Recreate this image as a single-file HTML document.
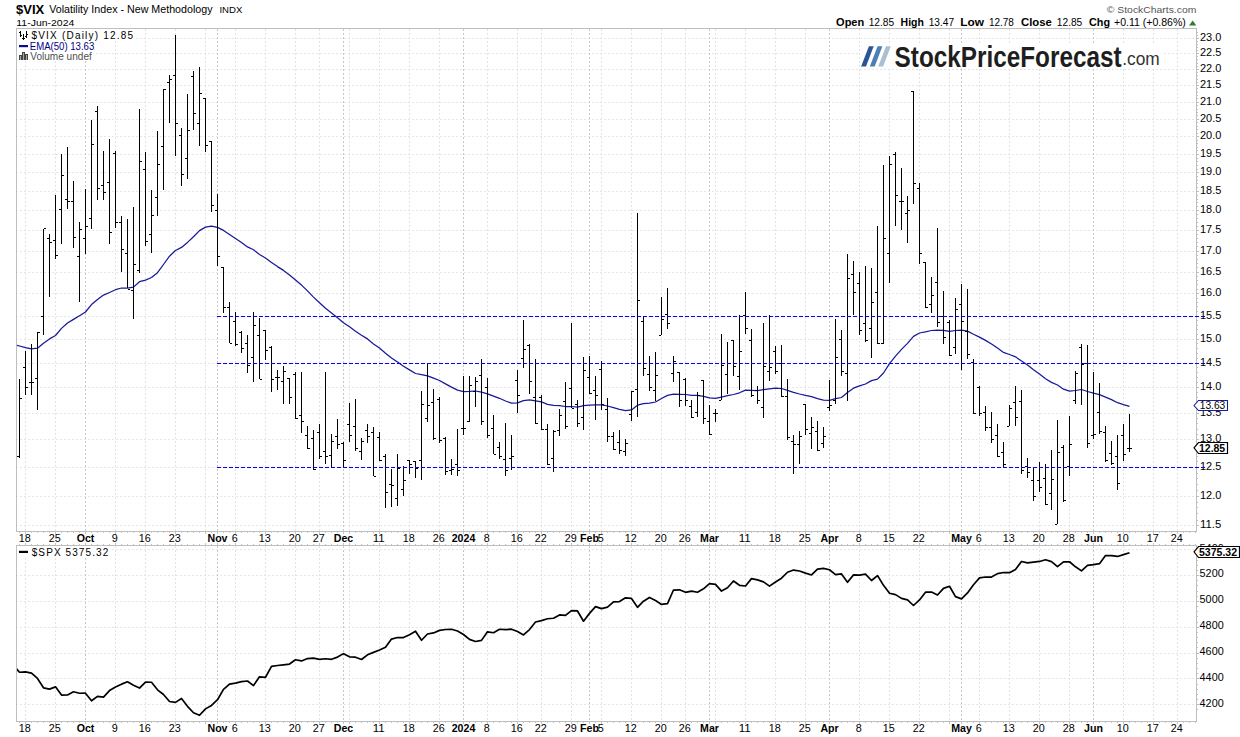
<!DOCTYPE html><html><head><meta charset="utf-8"><style>html,body{margin:0;padding:0;background:#fff;}svg{display:block}text{font-family:"Liberation Sans",sans-serif}</style></head><body><svg width="1240" height="737" viewBox="0 0 1240 737"><rect width="1240" height="737" fill="#fff"/><path d="M17 525.5H1196M17 496.5H1196M17 467.5H1196M17 439.5H1196M17 413.5H1196M17 387.5H1196M17 363.5H1196M17 339.5H1196M17 316.5H1196M17 293.5H1196M17 272.5H1196M17 251.5H1196M17 230.5H1196M17 210.5H1196M17 191.5H1196M17 172.5H1196M17 154.5H1196M17 136.5H1196M17 119.5H1196M17 102.5H1196M17 85.5H1196M17 69.5H1196M17 53.5H1196M17 38.5H1196M17 704.5H1196M17 678.5H1196M17 653.5H1196M17 627.5H1196M17 601.5H1196M17 575.5H1196M17 549.5H1196" stroke="#e6e6e6" stroke-width="1" stroke-dasharray="2 2" stroke-dashoffset="1" fill="none" shape-rendering="crispEdges"/><path d="M25.5 29V531M25.5 546V721M55.5 29V531M55.5 546V721M85.5 29V531M85.5 546V721M115.5 29V531M115.5 546V721M145.5 29V531M145.5 546V721M175.5 29V531M175.5 546V721M205.5 29V531M205.5 546V721M217.5 29V531M217.5 546V721M235.5 29V531M235.5 546V721M265.5 29V531M265.5 546V721M295.5 29V531M295.5 546V721M319.5 29V531M319.5 546V721M343.5 29V531M343.5 546V721M349.5 29V531M349.5 546V721M379.5 29V531M379.5 546V721M409.5 29V531M409.5 546V721M439.5 29V531M439.5 546V721M463.5 29V531M463.5 546V721M487.5 29V531M487.5 546V721M517.5 29V531M517.5 546V721M541.5 29V531M541.5 546V721M571.5 29V531M571.5 546V721M589.5 29V531M589.5 546V721M601.5 29V531M601.5 546V721M631.5 29V531M631.5 546V721M661.5 29V531M661.5 546V721M685.5 29V531M685.5 546V721M709.5 29V531M709.5 546V721M715.5 29V531M715.5 546V721M745.5 29V531M745.5 546V721M775.5 29V531M775.5 546V721M805.5 29V531M805.5 546V721M829.5 29V531M829.5 546V721M859.5 29V531M859.5 546V721M889.5 29V531M889.5 546V721M919.5 29V531M919.5 546V721M949.5 29V531M949.5 546V721M961.5 29V531M961.5 546V721M979.5 29V531M979.5 546V721M1009.5 29V531M1009.5 546V721M1039.5 29V531M1039.5 546V721M1069.5 29V531M1069.5 546V721M1093.5 29V531M1093.5 546V721M1123.5 29V531M1123.5 546V721M1153.5 29V531M1153.5 546V721M1177.5 29V531M1177.5 546V721" stroke="#e2e2e2" stroke-width="1" stroke-dasharray="2 2" fill="none" shape-rendering="crispEdges"/><path d="M85.5 29V531M85.5 546V721M217.5 29V531M217.5 546V721M343.5 29V531M343.5 546V721M463.5 29V531M463.5 546V721M589.5 29V531M589.5 546V721M709.5 29V531M709.5 546V721M829.5 29V531M829.5 546V721M961.5 29V531M961.5 546V721M1093.5 29V531M1093.5 546V721" stroke="#c8c8c8" stroke-width="1" stroke-dasharray="2 2" fill="none" shape-rendering="crispEdges"/><rect x="16.5" y="28.5" width="1180" height="503" fill="none" stroke="#bebebe" stroke-width="1" shape-rendering="crispEdges"/><rect x="16.5" y="545.5" width="1180" height="176" fill="none" stroke="#bebebe" stroke-width="1" shape-rendering="crispEdges"/><path d="M19.5 532v1M19.5 545v-1M19.5 722v1M25.5 532v2M25.5 545v-2M25.5 722v2M31.5 532v1M31.5 545v-1M31.5 722v1M37.5 532v1M37.5 545v-1M37.5 722v1M43.5 532v1M43.5 545v-1M43.5 722v1M49.5 532v1M49.5 545v-1M49.5 722v1M55.5 532v2M55.5 545v-2M55.5 722v2M61.5 532v1M61.5 545v-1M61.5 722v1M67.5 532v1M67.5 545v-1M67.5 722v1M73.5 532v1M73.5 545v-1M73.5 722v1M79.5 532v1M79.5 545v-1M79.5 722v1M85.5 532v2M85.5 545v-2M85.5 722v2M91.5 532v1M91.5 545v-1M91.5 722v1M97.5 532v1M97.5 545v-1M97.5 722v1M103.5 532v1M103.5 545v-1M103.5 722v1M109.5 532v1M109.5 545v-1M109.5 722v1M115.5 532v2M115.5 545v-2M115.5 722v2M121.5 532v1M121.5 545v-1M121.5 722v1M127.5 532v1M127.5 545v-1M127.5 722v1M133.5 532v1M133.5 545v-1M133.5 722v1M139.5 532v1M139.5 545v-1M139.5 722v1M145.5 532v2M145.5 545v-2M145.5 722v2M151.5 532v1M151.5 545v-1M151.5 722v1M157.5 532v1M157.5 545v-1M157.5 722v1M163.5 532v1M163.5 545v-1M163.5 722v1M169.5 532v1M169.5 545v-1M169.5 722v1M175.5 532v2M175.5 545v-2M175.5 722v2M181.5 532v1M181.5 545v-1M181.5 722v1M187.5 532v1M187.5 545v-1M187.5 722v1M193.5 532v1M193.5 545v-1M193.5 722v1M199.5 532v1M199.5 545v-1M199.5 722v1M205.5 532v2M205.5 545v-2M205.5 722v2M211.5 532v1M211.5 545v-1M211.5 722v1M217.5 532v2M217.5 545v-2M217.5 722v2M223.5 532v1M223.5 545v-1M223.5 722v1M229.5 532v1M229.5 545v-1M229.5 722v1M235.5 532v2M235.5 545v-2M235.5 722v2M241.5 532v1M241.5 545v-1M241.5 722v1M247.5 532v1M247.5 545v-1M247.5 722v1M253.5 532v1M253.5 545v-1M253.5 722v1M259.5 532v1M259.5 545v-1M259.5 722v1M265.5 532v2M265.5 545v-2M265.5 722v2M271.5 532v1M271.5 545v-1M271.5 722v1M277.5 532v1M277.5 545v-1M277.5 722v1M283.5 532v1M283.5 545v-1M283.5 722v1M289.5 532v1M289.5 545v-1M289.5 722v1M295.5 532v2M295.5 545v-2M295.5 722v2M301.5 532v1M301.5 545v-1M301.5 722v1M307.5 532v1M307.5 545v-1M307.5 722v1M313.5 532v1M313.5 545v-1M313.5 722v1M319.5 532v2M319.5 545v-2M319.5 722v2M325.5 532v1M325.5 545v-1M325.5 722v1M331.5 532v1M331.5 545v-1M331.5 722v1M337.5 532v1M337.5 545v-1M337.5 722v1M343.5 532v2M343.5 545v-2M343.5 722v2M349.5 532v2M349.5 545v-2M349.5 722v2M355.5 532v1M355.5 545v-1M355.5 722v1M361.5 532v1M361.5 545v-1M361.5 722v1M367.5 532v1M367.5 545v-1M367.5 722v1M373.5 532v1M373.5 545v-1M373.5 722v1M379.5 532v2M379.5 545v-2M379.5 722v2M385.5 532v1M385.5 545v-1M385.5 722v1M391.5 532v1M391.5 545v-1M391.5 722v1M397.5 532v1M397.5 545v-1M397.5 722v1M403.5 532v1M403.5 545v-1M403.5 722v1M409.5 532v2M409.5 545v-2M409.5 722v2M415.5 532v1M415.5 545v-1M415.5 722v1M421.5 532v1M421.5 545v-1M421.5 722v1M427.5 532v1M427.5 545v-1M427.5 722v1M433.5 532v1M433.5 545v-1M433.5 722v1M439.5 532v2M439.5 545v-2M439.5 722v2M445.5 532v1M445.5 545v-1M445.5 722v1M451.5 532v1M451.5 545v-1M451.5 722v1M457.5 532v1M457.5 545v-1M457.5 722v1M463.5 532v2M463.5 545v-2M463.5 722v2M469.5 532v1M469.5 545v-1M469.5 722v1M475.5 532v1M475.5 545v-1M475.5 722v1M481.5 532v1M481.5 545v-1M481.5 722v1M487.5 532v2M487.5 545v-2M487.5 722v2M493.5 532v1M493.5 545v-1M493.5 722v1M499.5 532v1M499.5 545v-1M499.5 722v1M505.5 532v1M505.5 545v-1M505.5 722v1M511.5 532v1M511.5 545v-1M511.5 722v1M517.5 532v2M517.5 545v-2M517.5 722v2M523.5 532v1M523.5 545v-1M523.5 722v1M529.5 532v1M529.5 545v-1M529.5 722v1M535.5 532v1M535.5 545v-1M535.5 722v1M541.5 532v2M541.5 545v-2M541.5 722v2M547.5 532v1M547.5 545v-1M547.5 722v1M553.5 532v1M553.5 545v-1M553.5 722v1M559.5 532v1M559.5 545v-1M559.5 722v1M565.5 532v1M565.5 545v-1M565.5 722v1M571.5 532v2M571.5 545v-2M571.5 722v2M577.5 532v1M577.5 545v-1M577.5 722v1M583.5 532v1M583.5 545v-1M583.5 722v1M589.5 532v2M589.5 545v-2M589.5 722v2M595.5 532v1M595.5 545v-1M595.5 722v1M601.5 532v2M601.5 545v-2M601.5 722v2M607.5 532v1M607.5 545v-1M607.5 722v1M613.5 532v1M613.5 545v-1M613.5 722v1M619.5 532v1M619.5 545v-1M619.5 722v1M625.5 532v1M625.5 545v-1M625.5 722v1M631.5 532v2M631.5 545v-2M631.5 722v2M637.5 532v1M637.5 545v-1M637.5 722v1M643.5 532v1M643.5 545v-1M643.5 722v1M649.5 532v1M649.5 545v-1M649.5 722v1M655.5 532v1M655.5 545v-1M655.5 722v1M661.5 532v2M661.5 545v-2M661.5 722v2M667.5 532v1M667.5 545v-1M667.5 722v1M673.5 532v1M673.5 545v-1M673.5 722v1M679.5 532v1M679.5 545v-1M679.5 722v1M685.5 532v2M685.5 545v-2M685.5 722v2M691.5 532v1M691.5 545v-1M691.5 722v1M697.5 532v1M697.5 545v-1M697.5 722v1M703.5 532v1M703.5 545v-1M703.5 722v1M709.5 532v2M709.5 545v-2M709.5 722v2M715.5 532v2M715.5 545v-2M715.5 722v2M721.5 532v1M721.5 545v-1M721.5 722v1M727.5 532v1M727.5 545v-1M727.5 722v1M733.5 532v1M733.5 545v-1M733.5 722v1M739.5 532v1M739.5 545v-1M739.5 722v1M745.5 532v2M745.5 545v-2M745.5 722v2M751.5 532v1M751.5 545v-1M751.5 722v1M757.5 532v1M757.5 545v-1M757.5 722v1M763.5 532v1M763.5 545v-1M763.5 722v1M769.5 532v1M769.5 545v-1M769.5 722v1M775.5 532v2M775.5 545v-2M775.5 722v2M781.5 532v1M781.5 545v-1M781.5 722v1M787.5 532v1M787.5 545v-1M787.5 722v1M793.5 532v1M793.5 545v-1M793.5 722v1M799.5 532v1M799.5 545v-1M799.5 722v1M805.5 532v2M805.5 545v-2M805.5 722v2M811.5 532v1M811.5 545v-1M811.5 722v1M817.5 532v1M817.5 545v-1M817.5 722v1M823.5 532v1M823.5 545v-1M823.5 722v1M829.5 532v2M829.5 545v-2M829.5 722v2M835.5 532v1M835.5 545v-1M835.5 722v1M841.5 532v1M841.5 545v-1M841.5 722v1M847.5 532v1M847.5 545v-1M847.5 722v1M853.5 532v1M853.5 545v-1M853.5 722v1M859.5 532v2M859.5 545v-2M859.5 722v2M865.5 532v1M865.5 545v-1M865.5 722v1M871.5 532v1M871.5 545v-1M871.5 722v1M877.5 532v1M877.5 545v-1M877.5 722v1M883.5 532v1M883.5 545v-1M883.5 722v1M889.5 532v2M889.5 545v-2M889.5 722v2M895.5 532v1M895.5 545v-1M895.5 722v1M901.5 532v1M901.5 545v-1M901.5 722v1M907.5 532v1M907.5 545v-1M907.5 722v1M913.5 532v1M913.5 545v-1M913.5 722v1M919.5 532v2M919.5 545v-2M919.5 722v2M925.5 532v1M925.5 545v-1M925.5 722v1M931.5 532v1M931.5 545v-1M931.5 722v1M937.5 532v1M937.5 545v-1M937.5 722v1M943.5 532v1M943.5 545v-1M943.5 722v1M949.5 532v2M949.5 545v-2M949.5 722v2M955.5 532v1M955.5 545v-1M955.5 722v1M961.5 532v2M961.5 545v-2M961.5 722v2M967.5 532v1M967.5 545v-1M967.5 722v1M973.5 532v1M973.5 545v-1M973.5 722v1M979.5 532v2M979.5 545v-2M979.5 722v2M985.5 532v1M985.5 545v-1M985.5 722v1M991.5 532v1M991.5 545v-1M991.5 722v1M997.5 532v1M997.5 545v-1M997.5 722v1M1003.5 532v1M1003.5 545v-1M1003.5 722v1M1009.5 532v2M1009.5 545v-2M1009.5 722v2M1015.5 532v1M1015.5 545v-1M1015.5 722v1M1021.5 532v1M1021.5 545v-1M1021.5 722v1M1027.5 532v1M1027.5 545v-1M1027.5 722v1M1033.5 532v1M1033.5 545v-1M1033.5 722v1M1039.5 532v2M1039.5 545v-2M1039.5 722v2M1045.5 532v1M1045.5 545v-1M1045.5 722v1M1051.5 532v1M1051.5 545v-1M1051.5 722v1M1057.5 532v1M1057.5 545v-1M1057.5 722v1M1063.5 532v1M1063.5 545v-1M1063.5 722v1M1069.5 532v2M1069.5 545v-2M1069.5 722v2M1075.5 532v1M1075.5 545v-1M1075.5 722v1M1081.5 532v1M1081.5 545v-1M1081.5 722v1M1087.5 532v1M1087.5 545v-1M1087.5 722v1M1093.5 532v2M1093.5 545v-2M1093.5 722v2M1099.5 532v1M1099.5 545v-1M1099.5 722v1M1105.5 532v1M1105.5 545v-1M1105.5 722v1M1111.5 532v1M1111.5 545v-1M1111.5 722v1M1117.5 532v1M1117.5 545v-1M1117.5 722v1M1123.5 532v2M1123.5 545v-2M1123.5 722v2M1129.5 532v1M1129.5 545v-1M1129.5 722v1M1135.5 532v1M1135.5 545v-1M1135.5 722v1M1141.5 532v1M1141.5 545v-1M1141.5 722v1M1147.5 532v1M1147.5 545v-1M1147.5 722v1M1153.5 532v2M1153.5 545v-2M1153.5 722v2M1159.5 532v1M1159.5 545v-1M1159.5 722v1M1165.5 532v1M1165.5 545v-1M1165.5 722v1M1171.5 532v1M1171.5 545v-1M1171.5 722v1M1177.5 532v2M1177.5 545v-2M1177.5 722v2M1183.5 532v1M1183.5 545v-1M1183.5 722v1M1189.5 532v1M1189.5 545v-1M1189.5 722v1M1195.5 532v1M1195.5 545v-1M1195.5 722v1" stroke="#c4c4c4" stroke-width="1" fill="none" shape-rendering="crispEdges"/><path d="M1197 525.5h2M1197 520.5h1M1197 513.5h1M1197 507.5h1M1197 502.5h1M1197 496.5h2M1197 490.5h1M1197 484.5h1M1197 478.5h1M1197 473.5h1M1197 467.5h2M1197 461.5h1M1197 456.5h1M1197 450.5h1M1197 445.5h1M1197 439.5h2M1197 434.5h1M1197 429.5h1M1197 423.5h1M1197 418.5h1M1197 413.5h2M1197 408.5h1M1197 402.5h1M1197 397.5h1M1197 392.5h1M1197 387.5h2M1197 382.5h1M1197 377.5h1M1197 372.5h1M1197 367.5h1M1197 363.5h2M1197 358.5h1M1197 353.5h1M1197 348.5h1M1197 343.5h1M1197 339.5h2M1197 334.5h1M1197 329.5h1M1197 325.5h1M1197 320.5h1M1197 316.5h2M1197 311.5h1M1197 306.5h1M1197 302.5h1M1197 298.5h1M1197 293.5h2M1197 289.5h1M1197 284.5h1M1197 280.5h1M1197 276.5h1M1197 272.5h2M1197 267.5h1M1197 263.5h1M1197 259.5h1M1197 255.5h1M1197 251.5h2M1197 246.5h1M1197 242.5h1M1197 238.5h1M1197 234.5h1M1197 230.5h2M1197 226.5h1M1197 222.5h1M1197 218.5h1M1197 214.5h1M1197 210.5h2M1197 206.5h1M1197 202.5h1M1197 199.5h1M1197 195.5h1M1197 191.5h2M1197 187.5h1M1197 183.5h1M1197 180.5h1M1197 176.5h1M1197 172.5h2M1197 169.5h1M1197 165.5h1M1197 161.5h1M1197 158.5h1M1197 154.5h2M1197 150.5h1M1197 147.5h1M1197 143.5h1M1197 140.5h1M1197 136.5h2M1197 133.5h1M1197 129.5h1M1197 126.5h1M1197 122.5h1M1197 119.5h2M1197 115.5h1M1197 112.5h1M1197 109.5h1M1197 105.5h1M1197 102.5h2M1197 98.5h1M1197 95.5h1M1197 92.5h1M1197 88.5h1M1197 85.5h2M1197 82.5h1M1197 79.5h1M1197 75.5h1M1197 72.5h1M1197 69.5h2M1197 66.5h1M1197 63.5h1M1197 59.5h1M1197 56.5h1M1197 53.5h2M1197 50.5h1M1197 47.5h1M1197 44.5h1M1197 41.5h1M1197 38.5h2M1197 35.5h1M1197 32.5h1M1197 709.5h1M1197 704.5h2M1197 699.5h1M1197 694.5h1M1197 689.5h1M1197 684.5h1M1197 678.5h2M1197 673.5h1M1197 668.5h1M1197 663.5h1M1197 658.5h1M1197 653.5h2M1197 647.5h1M1197 642.5h1M1197 637.5h1M1197 632.5h1M1197 627.5h2M1197 622.5h1M1197 616.5h1M1197 611.5h1M1197 606.5h1M1197 601.5h2M1197 596.5h1M1197 591.5h1M1197 585.5h1M1197 580.5h1M1197 575.5h2M1197 570.5h1M1197 565.5h1M1197 560.5h1M1197 554.5h1M1197 549.5h2" stroke="#bebebe" stroke-width="1" fill="none" shape-rendering="crispEdges"/><polyline points="17.0,345.3 19.5,346.0 25.5,347.6 31.5,348.9 37.5,348.2 43.5,343.2 49.5,338.9 55.5,335.5 61.5,328.4 67.5,323.0 73.5,319.4 79.5,315.7 85.5,312.0 91.5,304.6 97.5,299.6 103.5,295.1 109.5,292.5 115.5,289.7 121.5,288.0 127.5,288.1 133.5,287.1 139.5,281.7 145.5,280.1 151.5,277.5 157.5,272.7 163.5,264.5 169.5,256.2 175.5,250.5 181.5,247.4 187.5,242.4 193.5,236.8 199.5,230.6 205.5,227.1 211.5,226.2 217.5,227.4 223.5,230.4 229.5,234.5 235.5,238.5 241.5,242.5 247.5,246.9 253.5,249.8 259.5,254.5 265.5,258.0 271.5,262.4 277.5,266.6 283.5,270.4 289.5,275.0 295.5,280.1 301.5,285.1 307.5,290.9 313.5,297.1 319.5,302.7 325.5,308.2 331.5,312.9 337.5,317.7 343.5,322.7 349.5,326.8 355.5,331.2 361.5,335.2 367.5,338.9 373.5,343.9 379.5,348.1 385.5,353.2 391.5,358.0 397.5,362.0 403.5,366.3 409.5,369.9 415.5,373.5 421.5,374.7 427.5,375.8 433.5,378.2 439.5,380.5 445.5,383.9 451.5,387.1 457.5,390.1 463.5,391.6 469.5,391.4 475.5,391.0 481.5,392.2 487.5,393.8 493.5,396.1 499.5,398.3 505.5,401.0 511.5,403.1 517.5,402.8 523.5,400.7 529.5,399.9 535.5,400.8 541.5,401.9 547.5,404.3 553.5,405.3 559.5,405.7 565.5,406.5 571.5,406.5 577.5,407.2 583.5,405.7 589.5,405.2 595.5,404.8 601.5,404.8 607.5,406.0 613.5,407.7 619.5,409.3 625.5,410.6 631.5,409.9 637.5,405.2 643.5,403.7 649.5,403.1 655.5,402.0 661.5,398.5 667.5,395.4 673.5,394.1 679.5,394.3 685.5,394.5 691.5,395.4 697.5,395.4 703.5,396.3 709.5,397.8 715.5,398.4 721.5,397.1 727.5,395.7 733.5,394.5 739.5,392.8 745.5,390.1 751.5,390.3 757.5,390.7 763.5,389.7 769.5,388.8 775.5,388.1 781.5,388.5 787.5,390.3 793.5,392.4 799.5,394.0 805.5,395.4 811.5,396.6 817.5,398.7 823.5,400.1 829.5,400.3 835.5,398.6 841.5,397.5 847.5,392.4 853.5,388.2 859.5,385.9 865.5,384.0 871.5,380.6 877.5,379.1 883.5,373.0 889.5,363.6 895.5,356.2 901.5,349.4 907.5,343.4 913.5,336.4 919.5,333.0 925.5,331.9 931.5,330.5 937.5,330.2 943.5,330.4 949.5,331.4 955.5,330.5 961.5,330.2 967.5,331.1 973.5,334.2 979.5,337.1 985.5,340.4 991.5,344.0 997.5,348.1 1003.5,352.4 1009.5,354.5 1015.5,356.8 1021.5,361.0 1027.5,365.0 1033.5,369.7 1039.5,374.0 1045.5,378.7 1051.5,382.4 1057.5,385.0 1063.5,389.2 1069.5,391.2 1075.5,390.5 1081.5,389.5 1087.5,391.5 1093.5,393.2 1099.5,394.6 1105.5,397.1 1111.5,399.6 1117.5,402.7 1123.5,404.6 1129.5,406.3" stroke="#18189a" stroke-width="1.25" fill="none" stroke-linejoin="round"/><path d="M19.5 379V458M17 456.5h2M20 398.5h2M25.5 351V395M23 367.5h2M26 387.5h2M31.5 344V395M29 382.5h2M32 382.5h2M37.5 332V410M35 378.5h2M38 332.5h2M43.5 229V335M41 316.5h2M44 228.5h2M49.5 234V297M47 238.5h2M50 242.5h2M55.5 195V259M53 240.5h2M56 255.5h2M61.5 154V244M59 209.5h2M62 175.5h2M67.5 147V209M65 199.5h2M68 201.5h2M73.5 181V248M71 201.5h2M74 237.5h2M79.5 222V302M77 256.5h2M80 229.5h2M85.5 189V254M83 238.5h2M86 226.5h2M91.5 120V229M89 218.5h2M92 144.5h2M97.5 106V200M95 111.5h2M98 188.5h2M103.5 151V200M101 185.5h2M104 192.5h2M109.5 139V244M107 182.5h2M110 232.5h2M115.5 151V228M113 153.5h2M116 222.5h2M121.5 216V272M119 222.5h2M122 249.5h2M127.5 219V288M125 253.5h2M128 289.5h2M133.5 207V319M131 290.5h2M134 264.5h2M139.5 109V273M137 270.5h2M140 161.5h2M145.5 152V246M143 169.5h2M146 241.5h2M151.5 190V253M149 234.5h2M152 215.5h2M157.5 131V216M155 197.5h2M158 164.5h2M163.5 89V190M161 146.5h2M164 89.5h2M169.5 75V123M167 82.5h2M170 79.5h2M175.5 35V156M173 75.5h2M176 123.5h2M181.5 128V186M179 135.5h2M182 174.5h2M187.5 94V179M185 158.5h2M188 130.5h2M193.5 71V130M191 76.5h2M194 113.5h2M199.5 67V146M197 123.5h2M200 93.5h2M205.5 98V152M203 98.5h2M206 145.5h2M211.5 141V212M209 141.5h2M212 205.5h2M217.5 194V266M215 210.5h2M218 256.5h2M223.5 267V313M221 267.5h2M224 307.5h2M229.5 302V343M227 307.5h2M230 343.5h2M235.5 312V346M233 321.5h2M236 344.5h2M241.5 331V353M239 332.5h2M242 348.5h2M247.5 335V373M245 343.5h2M248 365.5h2M253.5 312V382M251 357.5h2M254 325.5h2M259.5 318V379M257 335.5h2M260 379.5h2M265.5 330V360M263 330.5h2M266 350.5h2M271.5 346V392M269 347.5h2M272 379.5h2M277.5 370V390M275 377.5h2M278 377.5h2M283.5 366V404M281 381.5h2M284 371.5h2M289.5 378V404M287 378.5h2M290 397.5h2M295.5 372V419M293 374.5h2M296 418.5h2M301.5 372V433M299 415.5h2M302 421.5h2M307.5 426V449M305 435.5h2M308 448.5h2M313.5 430V470M311 438.5h2M314 469.5h2M319.5 424V459M317 432.5h2M320 456.5h2M325.5 372V464M323 451.5h2M326 456.5h2M331.5 434V468M329 455.5h2M332 441.5h2M337.5 419V449M335 436.5h2M338 444.5h2M343.5 442V468M341 443.5h2M344 460.5h2M349.5 403V442M347 424.5h2M350 435.5h2M355.5 399V451M353 426.5h2M356 448.5h2M361.5 438V460M359 451.5h2M362 441.5h2M367.5 424V443M365 430.5h2M368 436.5h2M373.5 427V476M371 432.5h2M374 476.5h2M379.5 432V461M377 437.5h2M380 460.5h2M385.5 454V508M383 456.5h2M386 492.5h2M391.5 469V507M389 484.5h2M392 485.5h2M397.5 454V506M395 498.5h2M398 468.5h2M403.5 466V496M401 489.5h2M404 480.5h2M409.5 460V474M407 460.5h2M410 464.5h2M415.5 461V478M413 461.5h2M416 468.5h2M421.5 391V480M419 460.5h2M422 404.5h2M427.5 364V422M425 418.5h2M428 405.5h2M433.5 389V440M431 402.5h2M434 438.5h2M439.5 397V443M437 399.5h2M440 440.5h2M445.5 437V475M443 438.5h2M446 471.5h2M451.5 459V475M449 470.5h2M452 469.5h2M457.5 429V476M455 464.5h2M458 470.5h2M463.5 376V435M461 428.5h2M464 428.5h2M469.5 376V422M467 421.5h2M470 385.5h2M475.5 377V407M473 391.5h2M476 381.5h2M481.5 359V425M479 375.5h2M482 421.5h2M487.5 378V438M485 387.5h2M488 435.5h2M493.5 415V454M491 428.5h2M494 454.5h2M499.5 442V459M497 447.5h2M500 456.5h2M505.5 423V476M503 459.5h2M506 470.5h2M511.5 435V470M509 458.5h2M512 456.5h2M517.5 370V413M515 380.5h2M518 395.5h2M523.5 320V368M521 358.5h2M524 349.5h2M529.5 344V394M527 345.5h2M530 381.5h2M535.5 359V424M533 397.5h2M536 423.5h2M541.5 395V430M539 397.5h2M542 429.5h2M547.5 424V465M545 429.5h2M548 464.5h2M553.5 430V472M551 458.5h2M554 431.5h2M559.5 409V436M557 430.5h2M560 415.5h2M565.5 382V429M563 401.5h2M566 426.5h2M571.5 323V408M569 388.5h2M572 408.5h2M577.5 400V427M575 404.5h2M578 423.5h2M583.5 357V430M581 417.5h2M584 370.5h2M589.5 356V394M587 377.5h2M590 393.5h2M595.5 376V420M593 390.5h2M596 395.5h2M601.5 361V410M599 369.5h2M602 404.5h2M607.5 398V442M605 409.5h2M608 436.5h2M613.5 432V450M611 436.5h2M614 449.5h2M619.5 430V454M617 442.5h2M620 450.5h2M625.5 439V456M623 451.5h2M626 443.5h2M631.5 391V421M629 414.5h2M632 391.5h2M637.5 213V417M635 389.5h2M638 300.5h2M643.5 317V376M641 321.5h2M644 368.5h2M649.5 356V391M647 374.5h2M650 387.5h2M655.5 352V401M653 390.5h2M656 375.5h2M661.5 297V335M659 335.5h2M662 319.5h2M667.5 288V329M665 314.5h2M668 323.5h2M673.5 356V382M671 373.5h2M674 361.5h2M679.5 372V407M677 372.5h2M680 400.5h2M685.5 378V406M683 379.5h2M686 400.5h2M691.5 400V418M689 406.5h2M692 417.5h2M697.5 392V417M695 412.5h2M698 395.5h2M703.5 380V424M701 380.5h2M704 418.5h2M709.5 405V435M707 421.5h2M710 434.5h2M715.5 409V422M713 413.5h2M716 413.5h2M721.5 334V400M719 400.5h2M722 365.5h2M727.5 342V394M725 374.5h2M728 363.5h2M733.5 340V376M731 340.5h2M734 366.5h2M739.5 315V390M737 376.5h2M740 351.5h2M745.5 292V334M743 315.5h2M746 328.5h2M751.5 329V397M749 340.5h2M752 395.5h2M757.5 386V404M755 390.5h2M758 400.5h2M763.5 323V418M761 407.5h2M764 366.5h2M769.5 315V381M767 371.5h2M770 367.5h2M775.5 346V374M773 351.5h2M776 371.5h2M781.5 345V397M779 363.5h2M782 396.5h2M787.5 379V440M785 396.5h2M788 437.5h2M793.5 435V474M791 441.5h2M794 444.5h2M799.5 431V464M797 444.5h2M800 436.5h2M805.5 404V435M803 404.5h2M806 429.5h2M811.5 417V449M809 433.5h2M812 427.5h2M817.5 421V451M815 431.5h2M818 450.5h2M823.5 427V448M821 443.5h2M824 436.5h2M829.5 380V411M827 407.5h2M830 405.5h2M835.5 319V404M833 400.5h2M836 357.5h2M841.5 330V376M839 339.5h2M842 371.5h2M847.5 254V401M845 373.5h2M848 278.5h2M853.5 261V315M851 274.5h2M854 292.5h2M859.5 272V335M857 283.5h2M860 330.5h2M865.5 266V342M863 323.5h2M866 340.5h2M871.5 268V358M869 328.5h2M872 302.5h2M877.5 226V344M875 292.5h2M878 343.5h2M883.5 165V344M881 343.5h2M884 238.5h2M889.5 156V283M887 253.5h2M890 164.5h2M895.5 152V226M893 154.5h2M896 195.5h2M901.5 168V230M899 201.5h2M902 201.5h2M907.5 196V243M905 213.5h2M908 210.5h2M913.5 91V204M911 91.5h2M914 183.5h2M919.5 183V264M917 188.5h2M920 253.5h2M925.5 262V308M923 262.5h2M926 307.5h2M931.5 277V313M929 304.5h2M932 295.5h2M937.5 228V327M935 282.5h2M938 322.5h2M943.5 291V344M941 316.5h2M944 337.5h2M949.5 320V356M947 322.5h2M950 355.5h2M955.5 298V354M953 347.5h2M956 309.5h2M961.5 284V370M959 304.5h2M962 321.5h2M967.5 289V359M965 331.5h2M968 354.5h2M973.5 359V414M971 362.5h2M974 413.5h2M979.5 386V416M977 387.5h2M980 413.5h2M985.5 406V431M983 412.5h2M986 427.5h2M991.5 412V443M989 427.5h2M992 439.5h2M997.5 424V457M995 435.5h2M998 456.5h2M1003.5 442V467M1001 452.5h2M1004 464.5h2M1009.5 405V426M1007 426.5h2M1010 408.5h2M1015.5 386V426M1013 402.5h2M1016 417.5h2M1021.5 390V474M1019 401.5h2M1022 470.5h2M1027.5 458V478M1025 466.5h2M1028 472.5h2M1033.5 468V501M1031 480.5h2M1034 496.5h2M1039.5 462V492M1037 480.5h2M1040 487.5h2M1045.5 464V505M1043 478.5h2M1046 504.5h2M1051.5 450V510M1049 493.5h2M1052 479.5h2M1057.5 420V524M1055 524.5h2M1058 452.5h2M1063.5 445V502M1061 447.5h2M1064 500.5h2M1069.5 416V476M1067 466.5h2M1070 444.5h2M1075.5 371V404M1073 400.5h2M1076 373.5h2M1081.5 344V405M1079 347.5h2M1082 364.5h2M1087.5 345V448M1085 363.5h2M1088 443.5h2M1093.5 372V439M1091 435.5h2M1094 434.5h2M1099.5 383V434M1097 412.5h2M1100 431.5h2M1105.5 426V462M1103 432.5h2M1106 460.5h2M1111.5 441V465M1109 453.5h2M1112 463.5h2M1117.5 435V490M1115 456.5h2M1118 483.5h2M1123.5 424V461M1121 435.5h2M1124 454.5h2M1129.5 414V452M1127 448.5h2M1130 448.5h2" stroke="#000" stroke-width="1" fill="none" shape-rendering="crispEdges"/><clipPath id="c2"><rect x="17" y="546" width="1179" height="175"/></clipPath><polyline clip-path="url(#c2)" points="13.5,665.19 19.5,672.27 25.5,671.86 31.5,673.09 37.5,678.49 43.5,687.81 49.5,689.10 55.5,686.85 61.5,695.11 67.5,694.98 73.5,691.73 79.5,693.23 85.5,693.19 91.5,700.80 97.5,696.37 103.5,697.09 109.5,690.59 115.5,687.08 121.5,684.16 127.5,681.75 133.5,685.28 139.5,688.10 145.5,682.18 151.5,682.23 157.5,689.80 163.5,694.53 169.5,701.48 175.5,702.40 181.5,698.45 187.5,706.31 193.5,712.71 199.5,715.28 205.5,708.89 211.5,705.40 217.5,699.71 223.5,689.39 229.5,684.15 235.5,683.16 241.5,681.56 247.5,680.99 253.5,685.57 259.5,676.80 265.5,677.28 271.5,666.41 277.5,665.48 283.5,664.79 289.5,664.04 295.5,659.73 301.5,660.92 307.5,658.54 313.5,658.19 319.5,659.34 325.5,658.76 331.5,659.32 337.5,657.10 343.5,653.63 349.5,656.84 355.5,657.18 361.5,659.48 367.5,654.80 373.5,652.37 379.5,650.04 385.5,647.29 391.5,639.10 397.5,637.49 403.5,637.54 409.5,634.78 415.5,631.19 421.5,640.23 427.5,633.98 433.5,632.96 439.5,630.36 445.5,629.48 451.5,629.25 457.5,631.00 463.5,634.49 469.5,639.40 475.5,641.48 481.5,640.38 487.5,631.81 493.5,632.72 499.5,629.24 505.5,629.65 511.5,629.19 517.5,631.50 523.5,634.95 529.5,629.56 535.5,621.96 541.5,620.59 547.5,618.76 553.5,618.25 559.5,614.94 565.5,615.35 571.5,610.58 577.5,610.96 583.5,621.21 589.5,613.39 595.5,606.61 601.5,608.66 607.5,607.18 613.5,601.91 619.5,601.54 625.5,597.83 631.5,598.45 637.5,607.32 643.5,601.19 649.5,597.43 655.5,600.55 661.5,604.43 667.5,603.62 673.5,590.03 679.5,589.80 685.5,592.29 691.5,591.17 697.5,592.26 703.5,588.83 709.5,583.56 715.5,584.35 721.5,591.11 727.5,587.74 733.5,580.94 739.5,585.29 745.5,586.03 751.5,578.63 757.5,579.91 763.5,581.83 769.5,586.14 775.5,581.97 781.5,578.21 787.5,572.25 793.5,570.07 799.5,571.02 805.5,573.08 811.5,574.97 817.5,569.17 823.5,568.41 829.5,569.78 835.5,574.68 841.5,573.95 847.5,582.25 853.5,574.87 859.5,575.13 865.5,574.15 871.5,580.52 877.5,575.56 883.5,585.33 889.5,593.28 895.5,594.63 901.5,598.40 907.5,599.83 913.5,605.50 919.5,599.90 925.5,592.16 931.5,592.02 937.5,595.01 943.5,588.36 949.5,586.26 955.5,596.66 961.5,598.89 967.5,592.98 973.5,584.76 979.5,577.92 985.5,577.02 991.5,577.03 997.5,573.62 1003.5,572.50 1009.5,572.67 1015.5,569.40 1021.5,561.46 1027.5,562.89 1033.5,562.09 1039.5,561.47 1045.5,559.75 1051.5,561.61 1057.5,566.67 1063.5,561.91 1069.5,561.74 1075.5,566.79 1081.5,570.85 1087.5,565.42 1093.5,564.66 1099.5,563.64 1105.5,555.54 1111.5,555.68 1117.5,556.45 1123.5,554.66 1129.5,552.79" stroke="#000" stroke-width="1.7" fill="none" stroke-linejoin="round"/><text x="1200" y="528.1" font-size="10" textLength="21.3" lengthAdjust="spacingAndGlyphs">11.5</text><text x="1200" y="499.1" font-size="10" textLength="21.3" lengthAdjust="spacingAndGlyphs">12.0</text><text x="1200" y="470.1" font-size="10" textLength="21.3" lengthAdjust="spacingAndGlyphs">12.5</text><text x="1200" y="442.1" font-size="10" textLength="21.3" lengthAdjust="spacingAndGlyphs">13.0</text><text x="1200" y="416.1" font-size="10" textLength="21.3" lengthAdjust="spacingAndGlyphs">13.5</text><text x="1200" y="390.1" font-size="10" textLength="21.3" lengthAdjust="spacingAndGlyphs">14.0</text><text x="1200" y="366.1" font-size="10" textLength="21.3" lengthAdjust="spacingAndGlyphs">14.5</text><text x="1200" y="342.1" font-size="10" textLength="21.3" lengthAdjust="spacingAndGlyphs">15.0</text><text x="1200" y="319.1" font-size="10" textLength="21.3" lengthAdjust="spacingAndGlyphs">15.5</text><text x="1200" y="296.1" font-size="10" textLength="21.3" lengthAdjust="spacingAndGlyphs">16.0</text><text x="1200" y="275.1" font-size="10" textLength="21.3" lengthAdjust="spacingAndGlyphs">16.5</text><text x="1200" y="254.2" font-size="10" textLength="21.3" lengthAdjust="spacingAndGlyphs">17.0</text><text x="1200" y="233.2" font-size="10" textLength="21.3" lengthAdjust="spacingAndGlyphs">17.5</text><text x="1200" y="213.2" font-size="10" textLength="21.3" lengthAdjust="spacingAndGlyphs">18.0</text><text x="1200" y="194.2" font-size="10" textLength="21.3" lengthAdjust="spacingAndGlyphs">18.5</text><text x="1200" y="175.2" font-size="10" textLength="21.3" lengthAdjust="spacingAndGlyphs">19.0</text><text x="1200" y="157.2" font-size="10" textLength="21.3" lengthAdjust="spacingAndGlyphs">19.5</text><text x="1200" y="139.2" font-size="10" textLength="21.3" lengthAdjust="spacingAndGlyphs">20.0</text><text x="1200" y="122.2" font-size="10" textLength="21.3" lengthAdjust="spacingAndGlyphs">20.5</text><text x="1200" y="105.2" font-size="10" textLength="21.3" lengthAdjust="spacingAndGlyphs">21.0</text><text x="1200" y="88.2" font-size="10" textLength="21.3" lengthAdjust="spacingAndGlyphs">21.5</text><text x="1200" y="72.2" font-size="10" textLength="21.3" lengthAdjust="spacingAndGlyphs">22.0</text><text x="1200" y="56.1" font-size="10" textLength="21.3" lengthAdjust="spacingAndGlyphs">22.5</text><text x="1200" y="41.1" font-size="10" textLength="21.3" lengthAdjust="spacingAndGlyphs">23.0</text><text x="1199.6" y="706.6" font-size="10" textLength="24.1" lengthAdjust="spacingAndGlyphs">4200</text><text x="1199.6" y="680.8" font-size="10" textLength="24.1" lengthAdjust="spacingAndGlyphs">4400</text><text x="1199.6" y="654.9" font-size="10" textLength="24.1" lengthAdjust="spacingAndGlyphs">4600</text><text x="1199.6" y="629.1" font-size="10" textLength="24.1" lengthAdjust="spacingAndGlyphs">4800</text><text x="1199.6" y="603.3" font-size="10" textLength="24.1" lengthAdjust="spacingAndGlyphs">5000</text><text x="1199.6" y="577.4" font-size="10" textLength="24.1" lengthAdjust="spacingAndGlyphs">5200</text><text x="1199.6" y="551.6" font-size="10" textLength="24.1" lengthAdjust="spacingAndGlyphs">5400</text><path d="M217 316.5H1205" stroke="#0000ff" stroke-width="1" stroke-dasharray="4 2" fill="none" shape-rendering="crispEdges"/><path d="M217 363.5H1205" stroke="#0000ff" stroke-width="1" stroke-dasharray="4 2" fill="none" shape-rendering="crispEdges"/><path d="M217 467.5H1205" stroke="#0000ff" stroke-width="1" stroke-dasharray="4 2" fill="none" shape-rendering="crispEdges"/><text x="24.8" y="541.8" font-size="10" text-anchor="middle" textLength="12.0" lengthAdjust="spacingAndGlyphs">18</text><text x="24.8" y="731.6" font-size="10" text-anchor="middle" textLength="12.0" lengthAdjust="spacingAndGlyphs">18</text><text x="54.8" y="541.8" font-size="10" text-anchor="middle" textLength="12.0" lengthAdjust="spacingAndGlyphs">25</text><text x="54.8" y="731.6" font-size="10" text-anchor="middle" textLength="12.0" lengthAdjust="spacingAndGlyphs">25</text><text x="85.5" y="541.8" font-size="10.6" font-weight="bold" text-anchor="middle">Oct</text><text x="85.5" y="731.6" font-size="10.6" font-weight="bold" text-anchor="middle">Oct</text><text x="114.8" y="541.8" font-size="10" text-anchor="middle" textLength="6.0" lengthAdjust="spacingAndGlyphs">9</text><text x="114.8" y="731.6" font-size="10" text-anchor="middle" textLength="6.0" lengthAdjust="spacingAndGlyphs">9</text><text x="144.8" y="541.8" font-size="10" text-anchor="middle" textLength="12.0" lengthAdjust="spacingAndGlyphs">16</text><text x="144.8" y="731.6" font-size="10" text-anchor="middle" textLength="12.0" lengthAdjust="spacingAndGlyphs">16</text><text x="174.8" y="541.8" font-size="10" text-anchor="middle" textLength="12.0" lengthAdjust="spacingAndGlyphs">23</text><text x="174.8" y="731.6" font-size="10" text-anchor="middle" textLength="12.0" lengthAdjust="spacingAndGlyphs">23</text><text x="217.5" y="541.8" font-size="10.6" font-weight="bold" text-anchor="middle">Nov</text><text x="217.5" y="731.6" font-size="10.6" font-weight="bold" text-anchor="middle">Nov</text><text x="234.8" y="541.8" font-size="10" text-anchor="middle" textLength="6.0" lengthAdjust="spacingAndGlyphs">6</text><text x="234.8" y="731.6" font-size="10" text-anchor="middle" textLength="6.0" lengthAdjust="spacingAndGlyphs">6</text><text x="264.8" y="541.8" font-size="10" text-anchor="middle" textLength="12.0" lengthAdjust="spacingAndGlyphs">13</text><text x="264.8" y="731.6" font-size="10" text-anchor="middle" textLength="12.0" lengthAdjust="spacingAndGlyphs">13</text><text x="294.8" y="541.8" font-size="10" text-anchor="middle" textLength="12.0" lengthAdjust="spacingAndGlyphs">20</text><text x="294.8" y="731.6" font-size="10" text-anchor="middle" textLength="12.0" lengthAdjust="spacingAndGlyphs">20</text><text x="318.8" y="541.8" font-size="10" text-anchor="middle" textLength="12.0" lengthAdjust="spacingAndGlyphs">27</text><text x="318.8" y="731.6" font-size="10" text-anchor="middle" textLength="12.0" lengthAdjust="spacingAndGlyphs">27</text><text x="343.5" y="541.8" font-size="10.6" font-weight="bold" text-anchor="middle">Dec</text><text x="343.5" y="731.6" font-size="10.6" font-weight="bold" text-anchor="middle">Dec</text><text x="378.8" y="541.8" font-size="10" text-anchor="middle" textLength="12.0" lengthAdjust="spacingAndGlyphs">11</text><text x="378.8" y="731.6" font-size="10" text-anchor="middle" textLength="12.0" lengthAdjust="spacingAndGlyphs">11</text><text x="408.8" y="541.8" font-size="10" text-anchor="middle" textLength="12.0" lengthAdjust="spacingAndGlyphs">18</text><text x="408.8" y="731.6" font-size="10" text-anchor="middle" textLength="12.0" lengthAdjust="spacingAndGlyphs">18</text><text x="438.8" y="541.8" font-size="10" text-anchor="middle" textLength="12.0" lengthAdjust="spacingAndGlyphs">26</text><text x="438.8" y="731.6" font-size="10" text-anchor="middle" textLength="12.0" lengthAdjust="spacingAndGlyphs">26</text><text x="463.5" y="541.8" font-size="10.6" font-weight="bold" text-anchor="middle">2024</text><text x="463.5" y="731.6" font-size="10.6" font-weight="bold" text-anchor="middle">2024</text><text x="486.8" y="541.8" font-size="10" text-anchor="middle" textLength="6.0" lengthAdjust="spacingAndGlyphs">8</text><text x="486.8" y="731.6" font-size="10" text-anchor="middle" textLength="6.0" lengthAdjust="spacingAndGlyphs">8</text><text x="516.8" y="541.8" font-size="10" text-anchor="middle" textLength="12.0" lengthAdjust="spacingAndGlyphs">16</text><text x="516.8" y="731.6" font-size="10" text-anchor="middle" textLength="12.0" lengthAdjust="spacingAndGlyphs">16</text><text x="540.8" y="541.8" font-size="10" text-anchor="middle" textLength="12.0" lengthAdjust="spacingAndGlyphs">22</text><text x="540.8" y="731.6" font-size="10" text-anchor="middle" textLength="12.0" lengthAdjust="spacingAndGlyphs">22</text><text x="570.8" y="541.8" font-size="10" text-anchor="middle" textLength="12.0" lengthAdjust="spacingAndGlyphs">29</text><text x="570.8" y="731.6" font-size="10" text-anchor="middle" textLength="12.0" lengthAdjust="spacingAndGlyphs">29</text><text x="589.5" y="541.8" font-size="10.6" font-weight="bold" text-anchor="middle">Feb</text><text x="589.5" y="731.6" font-size="10.6" font-weight="bold" text-anchor="middle">Feb</text><text x="600.8" y="541.8" font-size="10" text-anchor="middle" textLength="6.0" lengthAdjust="spacingAndGlyphs">5</text><text x="600.8" y="731.6" font-size="10" text-anchor="middle" textLength="6.0" lengthAdjust="spacingAndGlyphs">5</text><text x="630.8" y="541.8" font-size="10" text-anchor="middle" textLength="12.0" lengthAdjust="spacingAndGlyphs">12</text><text x="630.8" y="731.6" font-size="10" text-anchor="middle" textLength="12.0" lengthAdjust="spacingAndGlyphs">12</text><text x="660.8" y="541.8" font-size="10" text-anchor="middle" textLength="12.0" lengthAdjust="spacingAndGlyphs">20</text><text x="660.8" y="731.6" font-size="10" text-anchor="middle" textLength="12.0" lengthAdjust="spacingAndGlyphs">20</text><text x="684.8" y="541.8" font-size="10" text-anchor="middle" textLength="12.0" lengthAdjust="spacingAndGlyphs">26</text><text x="684.8" y="731.6" font-size="10" text-anchor="middle" textLength="12.0" lengthAdjust="spacingAndGlyphs">26</text><text x="709.5" y="541.8" font-size="10.6" font-weight="bold" text-anchor="middle">Mar</text><text x="709.5" y="731.6" font-size="10.6" font-weight="bold" text-anchor="middle">Mar</text><text x="744.8" y="541.8" font-size="10" text-anchor="middle" textLength="12.0" lengthAdjust="spacingAndGlyphs">11</text><text x="744.8" y="731.6" font-size="10" text-anchor="middle" textLength="12.0" lengthAdjust="spacingAndGlyphs">11</text><text x="774.8" y="541.8" font-size="10" text-anchor="middle" textLength="12.0" lengthAdjust="spacingAndGlyphs">18</text><text x="774.8" y="731.6" font-size="10" text-anchor="middle" textLength="12.0" lengthAdjust="spacingAndGlyphs">18</text><text x="804.8" y="541.8" font-size="10" text-anchor="middle" textLength="12.0" lengthAdjust="spacingAndGlyphs">25</text><text x="804.8" y="731.6" font-size="10" text-anchor="middle" textLength="12.0" lengthAdjust="spacingAndGlyphs">25</text><text x="829.5" y="541.8" font-size="10.6" font-weight="bold" text-anchor="middle">Apr</text><text x="829.5" y="731.6" font-size="10.6" font-weight="bold" text-anchor="middle">Apr</text><text x="858.8" y="541.8" font-size="10" text-anchor="middle" textLength="6.0" lengthAdjust="spacingAndGlyphs">8</text><text x="858.8" y="731.6" font-size="10" text-anchor="middle" textLength="6.0" lengthAdjust="spacingAndGlyphs">8</text><text x="888.8" y="541.8" font-size="10" text-anchor="middle" textLength="12.0" lengthAdjust="spacingAndGlyphs">15</text><text x="888.8" y="731.6" font-size="10" text-anchor="middle" textLength="12.0" lengthAdjust="spacingAndGlyphs">15</text><text x="918.8" y="541.8" font-size="10" text-anchor="middle" textLength="12.0" lengthAdjust="spacingAndGlyphs">22</text><text x="918.8" y="731.6" font-size="10" text-anchor="middle" textLength="12.0" lengthAdjust="spacingAndGlyphs">22</text><text x="961.5" y="541.8" font-size="10.6" font-weight="bold" text-anchor="middle">May</text><text x="961.5" y="731.6" font-size="10.6" font-weight="bold" text-anchor="middle">May</text><text x="978.8" y="541.8" font-size="10" text-anchor="middle" textLength="6.0" lengthAdjust="spacingAndGlyphs">6</text><text x="978.8" y="731.6" font-size="10" text-anchor="middle" textLength="6.0" lengthAdjust="spacingAndGlyphs">6</text><text x="1008.8" y="541.8" font-size="10" text-anchor="middle" textLength="12.0" lengthAdjust="spacingAndGlyphs">13</text><text x="1008.8" y="731.6" font-size="10" text-anchor="middle" textLength="12.0" lengthAdjust="spacingAndGlyphs">13</text><text x="1038.8" y="541.8" font-size="10" text-anchor="middle" textLength="12.0" lengthAdjust="spacingAndGlyphs">20</text><text x="1038.8" y="731.6" font-size="10" text-anchor="middle" textLength="12.0" lengthAdjust="spacingAndGlyphs">20</text><text x="1068.8" y="541.8" font-size="10" text-anchor="middle" textLength="12.0" lengthAdjust="spacingAndGlyphs">28</text><text x="1068.8" y="731.6" font-size="10" text-anchor="middle" textLength="12.0" lengthAdjust="spacingAndGlyphs">28</text><text x="1093.5" y="541.8" font-size="10.6" font-weight="bold" text-anchor="middle">Jun</text><text x="1093.5" y="731.6" font-size="10.6" font-weight="bold" text-anchor="middle">Jun</text><text x="1122.8" y="541.8" font-size="10" text-anchor="middle" textLength="12.0" lengthAdjust="spacingAndGlyphs">10</text><text x="1122.8" y="731.6" font-size="10" text-anchor="middle" textLength="12.0" lengthAdjust="spacingAndGlyphs">10</text><text x="1152.8" y="541.8" font-size="10" text-anchor="middle" textLength="12.0" lengthAdjust="spacingAndGlyphs">17</text><text x="1152.8" y="731.6" font-size="10" text-anchor="middle" textLength="12.0" lengthAdjust="spacingAndGlyphs">17</text><text x="1176.8" y="541.8" font-size="10" text-anchor="middle" textLength="12.0" lengthAdjust="spacingAndGlyphs">24</text><text x="1176.8" y="731.6" font-size="10" text-anchor="middle" textLength="12.0" lengthAdjust="spacingAndGlyphs">24</text><path d="M17 29H135V40.5H96V50.5H93V61H17Z" fill="#fff"/><g font-size="9.6"><path d="M20.5 31V37M19 32.5h1M21 35.5h1M23.5 34V40M22 38.5h3M26.5 31V38M27 34.5h1M25 36.5h1" stroke="#000" stroke-width="1" fill="none" shape-rendering="crispEdges"/><text x="31.5" y="38.8" font-size="10" textLength="101.5" lengthAdjust="spacing">$VIX (Daily) 12.85</text><rect x="19" y="45" width="9" height="2.2" fill="#0a0a8c"/><text x="29.8" y="49.9" font-size="10" fill="#000088" textLength="64.5" lengthAdjust="spacingAndGlyphs">EMA(50) 13.63</text><path d="M19 55h3v5h-3zM22 52h3v8h-3zM25 54h3v6h-3z" fill="#454545"/><path d="M20 56h1v4h-1zM23 53h1v7h-1zM26 55h1v5h-1z" fill="#a8a8a8"/><text x="30.3" y="59.7" font-size="10" fill="#505050" textLength="61.5" lengthAdjust="spacingAndGlyphs">Volume undef</text><rect x="17" y="546" width="93" height="12" fill="#fff"/><rect x="19" y="550.8" width="9" height="2.2" fill="#000"/><text x="31.7" y="555.9" font-size="10" textLength="76.6" lengthAdjust="spacing">$SPX 5375.32</text></g><text x="1106.8" y="12.9" font-size="9.8" fill="#555" textLength="89.5" lengthAdjust="spacingAndGlyphs">© StockCharts.com</text><text x="836.1" y="25.7" font-size="10.8" font-weight="bold" textLength="28.1" lengthAdjust="spacingAndGlyphs">Open</text><text x="868.7" y="25.7" font-size="10"  textLength="25.5" lengthAdjust="spacingAndGlyphs">12.85</text><text x="900.6" y="25.7" font-size="10.8" font-weight="bold" textLength="23.3" lengthAdjust="spacingAndGlyphs">High</text><text x="928.7" y="25.7" font-size="10"  textLength="25.5" lengthAdjust="spacingAndGlyphs">13.47</text><text x="960.3" y="25.7" font-size="10.8" font-weight="bold" textLength="23.7" lengthAdjust="spacingAndGlyphs">Low</text><text x="988.9" y="25.7" font-size="10"  textLength="25.0" lengthAdjust="spacingAndGlyphs">12.78</text><text x="1021.0" y="25.7" font-size="10.8" font-weight="bold" textLength="30.9" lengthAdjust="spacingAndGlyphs">Close</text><text x="1056.8" y="25.7" font-size="10"  textLength="25.5" lengthAdjust="spacingAndGlyphs">12.85</text><text x="1089.0" y="25.7" font-size="10.8" font-weight="bold" textLength="21.0" lengthAdjust="spacingAndGlyphs">Chg</text><text x="1114.0" y="25.7" font-size="10"  textLength="71.8" lengthAdjust="spacingAndGlyphs">+0.11 (+0.86%)</text><path d="M1189 25.5L1192.7 20.6L1196.3 25.5Z" fill="#2e7d32"/><rect x="860.5" y="43" width="301" height="25" fill="#fff"/><path d="M861.1 66.6L868.9 46.3L873.7 46.3L866.0 66.6Z" fill="#2c5596"/><path d="M869.8 66.6L877.6 46.3L882.4 46.3L874.7 66.6Z" fill="#4b7fb8"/><path d="M878.2 66.6L886.0 46.3L890.8 46.3L883.1 66.6Z" fill="#a9c0d4"/><text x="894.6" y="66.7" font-size="30" font-weight="bold" fill="#1e1e1e" textLength="227" lengthAdjust="spacingAndGlyphs">StockPriceForecast</text><text x="1122.3" y="65.3" font-size="19" fill="#333" textLength="37.5" lengthAdjust="spacingAndGlyphs">.com</text><path d="M1194 405.5L1198.5 400.5H1227.5V410.5H1198.5Z" fill="#fff" stroke="#1a1aa0" stroke-width="1.1"/><text x="1199.7" y="408.8" font-size="10" textLength="25.6" lengthAdjust="spacingAndGlyphs">13.63</text><path d="M1194 447.8L1198.5 442.5H1227.5V453.5H1198.5Z" fill="#fff" stroke="#000" stroke-width="1.2"/><text x="1199" y="451.9" font-size="10.8" font-weight="bold" textLength="26.2" lengthAdjust="spacingAndGlyphs">12.85</text><path d="M1194 551.8L1198.5 546.5H1239.5V557.5H1198.5Z" fill="#fff" stroke="#000" stroke-width="1.2"/><text x="1199" y="556" font-size="10.5" font-weight="bold" textLength="38" lengthAdjust="spacingAndGlyphs">5375.32</text><text x="16" y="13.6" font-size="13" font-weight="bold" textLength="28.2" lengthAdjust="spacingAndGlyphs">$VIX</text><text x="49.2" y="13.2" font-size="10.7">Volatility Index - New Methodology</text><text x="219.4" y="13.2" font-size="9.6">INDX</text><text x="16.3" y="25.6" font-size="9.2" textLength="58" lengthAdjust="spacingAndGlyphs">11-Jun-2024</text></svg></body></html>
